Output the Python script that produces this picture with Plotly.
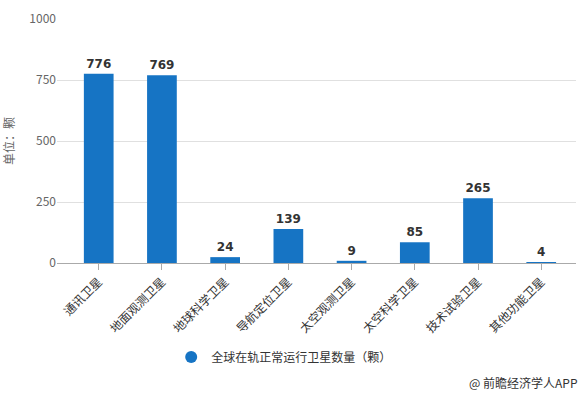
import plotly.graph_objects as go

categories = ["通讯卫星", "地面观测卫星", "地球科学卫星", "导航定位卫星",
              "太空观测卫星", "太空科学卫星", "技术试验卫星", "其他功能卫星"]
values = [776, 769, 24, 139, 9, 85, 265, 4]
y_ticks = [0, 250, 500, 750, 1000]
series_name = "全球在轨正常运行卫星数量（颗）"

bar_color = "#1674c4"
font_family = "Noto Sans CJK SC, Microsoft YaHei, sans-serif"

fig = go.Figure()
fig.add_trace(go.Bar(
    x=categories, y=values, width=0.47,
    marker=dict(color=bar_color, line=dict(width=0)),
    text=[str(v) for v in values], textposition="outside",
    textfont=dict(size=12, color="#333333", family="DejaVu Sans, Verdana, sans-serif"),
    texttemplate="<b>%{text}</b>",
    cliponaxis=False, showlegend=False,
))
fig.add_trace(go.Scatter(
    x=[None], y=[None], mode="markers", name=series_name,
    marker=dict(symbol="circle", size=12, color=bar_color),
    showlegend=True,
))

fig.update_layout(
    width=586, height=395,
    margin=dict(l=57, r=10, t=19, b=132, autoexpand=False),
    paper_bgcolor="white", plot_bgcolor="white",
    font=dict(family=font_family, size=12, color="#333333"),
    xaxis=dict(
        type="category", range=[-0.66, 7.55], automargin=False,
        tickangle=-45, tickfont=dict(size=12, color="#333333"),
        showline=True, linecolor="#aaaaaa", linewidth=1,
        ticks="outside", ticklen=6, tickcolor="#aaaaaa",
        showgrid=False,
    ),
    yaxis=dict(
        range=[0, 1000], tickvals=y_ticks, automargin=False,
        tickfont=dict(size=12, color="#666666"),
        showgrid=True, gridcolor="#e0e0e0", gridwidth=1,
        zeroline=False, showline=False,
        title=dict(text="单位：颗", font=dict(size=12, color="#666666"), standoff=14),
    ),
    legend=dict(
        orientation="h", x=0.22, xanchor="left", y=-0.385, yanchor="middle",
        font=dict(size=12, color="#333333"), itemsizing="constant",
        bgcolor="rgba(0,0,0,0)",
    ),
    showlegend=True,
)

fig.add_annotation(
    text="@ 前瞻经济学人APP", xref="paper", yref="paper",
    x=1.008, xanchor="right", y=-0.49, yanchor="middle",
    showarrow=False, font=dict(size=12, color="#333333"),
)

fig.write_html("out.html", config={"displayModeBar": False},
               post_script="document.body.style.margin='0px';document.body.style.padding='0px';")
